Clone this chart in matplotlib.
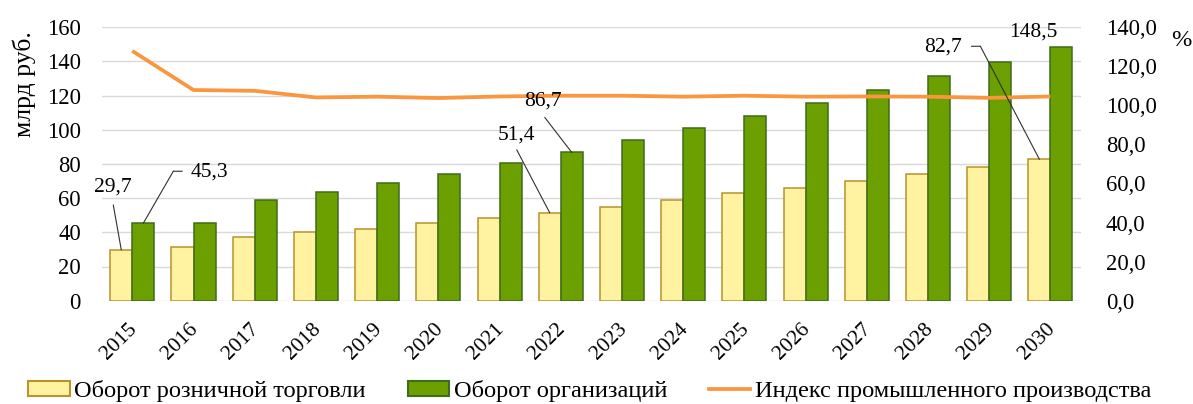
import matplotlib
matplotlib.use("Agg")
import matplotlib.pyplot as plt
import numpy as np
from matplotlib.transforms import offset_copy, ScaledTranslation
from matplotlib.patches import Patch
from matplotlib.lines import Line2D

plt.rcParams['font.family'] = ['Liberation Serif', 'DejaVu Serif']

years = ['2015', '2016', '2017', '2018', '2019', '2020', '2021', '2022',
         '2023', '2024', '2025', '2026', '2027', '2028', '2029', '2030']
retail = [29.7, 31.6, 37.4, 40.0, 42.1, 45.2, 48.1, 51.4,
          54.9, 58.8, 62.7, 66.1, 70.2, 74.3, 78.3, 82.7]
orgs = [45.3, 45.6, 58.8, 63.4, 68.8, 73.9, 80.5, 86.7,
        93.7, 100.8, 108.2, 115.8, 123.3, 131.3, 139.6, 148.5]
index = [127.8, 107.8, 107.4, 104.0, 104.4, 103.7, 104.5, 104.9,
         104.9, 104.4, 104.9, 104.4, 104.5, 104.4, 103.8, 104.5]

series_names = ['Оборот розничной торговли', 'Оборот организаций',
                'Индекс промышленного производства']
left_label = 'млрд руб.'
right_label = '%'
left_ticks = [0, 20, 40, 60, 80, 100, 120, 140, 160]
right_ticks = [0, 20, 40, 60, 80, 100, 120, 140]

# labelled points: (series, year index, text offset px, leader path px)
labels = [
    ('retail', 0, (-8, 63), [(-8, 45), (0, 0)]),
    ('orgs', 0, (66, 51), [(39, 52), (30, 52), (0, 0)]),
    ('retail', 7, (-33, 78), [(-33, 63), (0, 0)]),
    ('orgs', 7, (-29, 51), [(-27, 35), (0, 0)]),
    ('retail', 15, (-96, 112), [(-68, 113), (-59, 113), (0, 0)]),
    ('orgs', 15, (-28, 15), []),
]

W, H = 1193, 404
fig = plt.figure(figsize=(W / 100, H / 100), dpi=100)
ax = fig.add_axes([101.7 / W, 1 - 300.7 / H, (1081 - 101.7) / W, (300.7 - 27.1) / H])
ax2 = ax.twinx()

FS = 15.5
FS_TICK = 16.3
FS_LEG = 17.6
x = np.arange(len(years))
w = 0.36
yellow, yellow_edge = '#FFF2A1', '#B8922A'
green, green_edge = '#6BA000', '#3E6B1E'
orange = '#F9963E'

ax.bar(x - w / 2, retail, w, color=yellow, edgecolor=yellow_edge, linewidth=1.1, zorder=3)
ax.bar(x + w / 2, orgs, w, color=green, edgecolor=green_edge, linewidth=1.1, zorder=3)
ax2.plot(x, index, color=orange, linewidth=2.7, solid_capstyle='butt', zorder=4)

ax.set_xlim(-0.5, len(years) - 0.5)
ax.set_ylim(0, 160)
ax2.set_ylim(0, 140)
ax.set_yticks(left_ticks)
ax.set_yticklabels([str(t) for t in left_ticks])
ax2.set_yticks(right_ticks)
ax2.set_yticklabels([f'{t:.1f}'.replace('.', ',') for t in right_ticks])
ax.grid(axis='y', color='#D9D9D9', linewidth=1.0, zorder=0)
ax.set_axisbelow(True)
for a in (ax, ax2):
    for s in a.spines.values():
        s.set_visible(False)
ax.tick_params(axis='y', length=0, labelsize=FS_TICK, pad=15)
ax2.tick_params(axis='y', length=0, labelsize=FS_TICK, pad=18)
ax.tick_params(axis='x', length=0, labelsize=FS, pad=4)
ax.set_xticks(x)
ax.set_xticklabels(years, rotation=45, ha='right', va='center', rotation_mode='anchor')
for lab in ax.get_xticklabels():
    lab.set_transform(lab.get_transform() + ScaledTranslation(2 / 100, -20 / 100, fig.dpi_scale_trans))

fig.text(24 / W, 1 - 84 / H, left_label, rotation=90, ha='center', va='center', fontsize=18.5)
fig.text(1181 / W, 1 - 40 / H, right_label, ha='center', va='center', fontsize=FS_LEG)

data = {'retail': retail, 'orgs': orgs}
for ser, i, toff, path in labels:
    v = data[ser][i]
    xc = i - w / 2 if ser == 'retail' else i + w / 2
    ax2.annotate(f'{v:.1f}'.replace('.', ','), xy=(xc, v), xycoords=ax.transData,
                 xytext=toff, textcoords='offset pixels', ha='center', va='center',
                 fontsize=FS, zorder=6)
    for p0, p1 in zip(path[:-1], path[1:]):
        ax2.annotate('', xy=(xc, v),
                     xycoords=offset_copy(ax.transData, fig=fig, x=p1[0], y=p1[1], units='dots'),
                     xytext=(xc, v),
                     textcoords=offset_copy(ax.transData, fig=fig, x=p0[0], y=p0[1], units='dots'),
                     arrowprops=dict(arrowstyle='-', color='#303030', lw=0.8,
                                     shrinkA=0, shrinkB=0), zorder=6)

handles = [Patch(facecolor=yellow, edgecolor=yellow_edge, linewidth=1.5),
           Patch(facecolor=green, edgecolor=green_edge, linewidth=1.5),
           Line2D([], [], color=orange, linewidth=2.7)]
fig.legend(handles, series_names, loc='center left', bbox_to_anchor=(28 / W, 1 - 391 / H),
           ncol=3, frameon=False, fontsize=FS_LEG, borderpad=0, borderaxespad=0,
           handlelength=1.7, handleheight=0.53, handletextpad=0.2, columnspacing=1.7)

fig.savefig('out.png', dpi=100)
